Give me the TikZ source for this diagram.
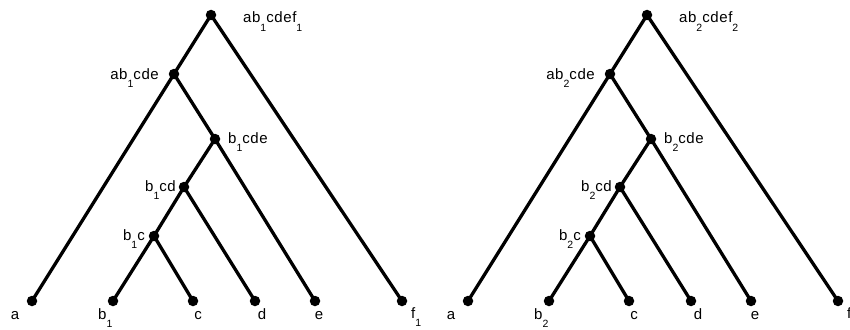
\documentclass[tikz,border=0pt]{standalone}
\usepackage{fontspec}
\setmainfont{Liberation Sans}[LetterSpace=4]
\newcommand\lsub[1]{\raisebox{-8.5pt}{\fontsize{10.5}{10.5}\selectfont #1}}
\tikzset{
  dot/.style={circle, fill=black, inner sep=0pt, minimum size=10.5pt},
  edge/.style={line width=3.3pt},
  lbl/.style={inner sep=0pt, font=\fontsize{15}{15}\selectfont},
}
\newcommand\mytree[2]{%
  \node[dot] (root) at (211,15) {};
  \node[dot] (abcde) at (174,74) {};
  \node[dot] (bcde) at (215,139) {};
  \node[dot] (bcd) at (184,187) {};
  \node[dot] (bc) at (154,236) {};
  \node[dot] (la) at (32,301) {};
  \node[dot] (lb) at (113,301) {};
  \node[dot] (lc) at (193,301) {};
  \node[dot] (ld) at (255,301) {};
  \node[dot] (le) at (315,301) {};
  \node[dot] (lf) at (402,301) {};
  \draw[edge] (root.center) -- (abcde.center) -- (la.center);
  \draw[edge] (root.center) -- (lf.center);
  \draw[edge] (abcde.center) -- (bcde.center) -- (le.center);
  \draw[edge] (bcde.center) -- (bcd.center) -- (bc.center) -- (lb.center);
  \draw[edge] (bcd.center) -- (ld.center);
  \draw[edge] (bc.center) -- (lc.center);
  \node[lbl, anchor=base west] (t1) at (243,23) {ab\lsub{#1}cdef\lsub{#1}};
  \node[lbl, anchor=base east] (t2) at (159,79) {ab\lsub{#1}cde};
  \node[lbl, anchor=base west] (t3) at (228,143) {b\lsub{#1}cde};
  \node[lbl, anchor=base east] (t4) at (176,191) {b\lsub{#1}cd};
  \node[lbl, anchor=base east] (t5) at (145,240) {b\lsub{#1}c};
  \node[lbl, anchor=base] (ta) at (15,319) {a};
  \node[lbl, anchor=base west] (tb) at (98,319) {b\lsub{#1}};
  \node[lbl, anchor=base] (tc) at (198,319) {c};
  \node[lbl, anchor=base] (td) at (262,319) {d};
  \node[lbl, anchor=base] (te) at (319,319) {e};
  \node[lbl, anchor=base west] (tf) at (411,318) {#2};
}
\begin{document}
\begin{tikzpicture}[x=1pt, y=-1pt]
  \useasboundingbox (0,0) rectangle (850,329);
  \begin{scope}[name prefix=L-]
    \mytree{1}{f\lsub{1}}
  \end{scope}
  \begin{scope}[xshift=436pt, name prefix=R-]
    \mytree{2}{f}
  \end{scope}
\end{tikzpicture}
\end{document}
